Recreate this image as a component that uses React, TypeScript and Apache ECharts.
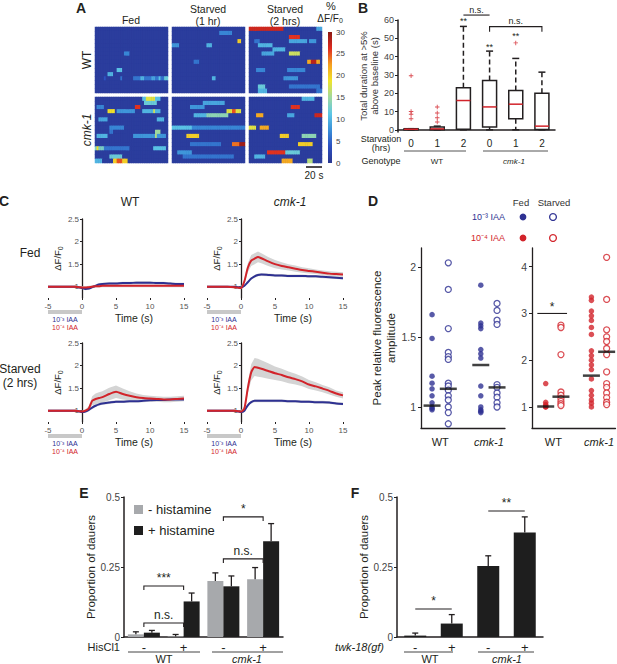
import React, { useEffect, useRef } from 'react';
import * as echarts from 'echarts';

const FONT = '"Liberation Sans", Arial, Helvetica, sans-serif';
const INK = '#231f20';
const RED = '#d2232a';
const BLUE = '#2e3192';
const BAND = '#d4d4d4';

// ---------------- Panel A (heatmaps) ----------------
const hmRows = 16;
const hmCols = 40;
const hmBackground = 1;
const jetColors = ['#2a3790', '#2c4ec0', '#3a8fd8', '#5cc6e6', '#9fd9a0', '#f0e42a', '#f5a020', '#e02a1f', '#8c1a14'];
// events: [row, startCol, length, value]
const evWTFed = [[6, 16, 3, 7], [10, 12, 3, 11], [11, 7, 3, 10], [12, 5, 1, 4], [12, 14, 1, 6], [12, 21, 18, 6], [12, 25, 2, 10], [12, 31, 2, 9], [12, 35, 1, 11], [12, 38, 2, 12]];
const evWTStarved1 = [[1, 26, 7, 7], [3, 36, 2, 20], [4, 0, 4, 8], [4, 19, 3, 10], [8, 12, 3, 6], [12, 22, 2, 10]];
const evWTStarved2 = [[0, 0, 19, 27], [0, 37, 3, 9], [2, 22, 6, 26], [2, 26, 2, 20], [3, 3, 3, 6], [3, 22, 10, 9], [3, 33, 4, 8], [4, 5, 8, 10], [5, 13, 7, 10], [6, 7, 7, 9], [6, 22, 6, 17], [8, 32, 7, 22], [8, 34, 3, 28], [10, 4, 5, 7], [10, 21, 10, 7], [12, 19, 8, 8], [14, 5, 4, 12], [14, 22, 17, 6], [15, 5, 5, 10], [15, 37, 3, 6]];
const evCmkFed = [[0, 26, 10, 11], [0, 28, 5, 18], [1, 27, 7, 12], [2, 1, 4, 7], [2, 22, 3, 26], [3, 7, 4, 19], [3, 12, 10, 8], [3, 26, 10, 10], [3, 32, 1, 17], [5, 2, 5, 9], [5, 34, 4, 10], [7, 8, 8, 7], [8, 8, 2, 6], [8, 33, 3, 15], [9, 1, 6, 10], [9, 21, 18, 8], [9, 33, 1, 16], [12, 0, 5, 13], [12, 1, 1, 19], [12, 5, 14, 6], [12, 32, 7, 11], [14, 8, 7, 12], [15, 0, 4, 10], [15, 10, 8, 20], [15, 12, 3, 25]];
const evCmkStarved1 = [[1, 17, 12, 9], [2, 10, 8, 8], [3, 30, 8, 18], [3, 33, 2, 25], [4, 12, 8, 10], [4, 19, 12, 14], [7, 0, 11, 11], [7, 10, 30, 7], [9, 8, 7, 20], [11, 10, 17, 6], [11, 33, 7, 24], [11, 37, 3, 29], [13, 3, 8, 8], [14, 6, 28, 6]];
const evCmkStarved2 = [[0, 29, 7, 10], [2, 23, 5, 26], [4, 4, 4, 22], [4, 21, 4, 9], [4, 36, 4, 27], [7, 0, 4, 18], [7, 6, 5, 22], [9, 17, 5, 20], [9, 29, 8, 14], [11, 27, 8, 20], [13, 10, 10, 26], [13, 10, 3, 22], [13, 19, 9, 12], [14, 3, 6, 10], [15, 18, 6, 22], [15, 32, 3, 16]];
const colorbarMax = 30;

// ---------------- Panel B (box plot) ----------------
const bCats = ['0', '1', '2', '0', '1', '2'];
// [low, q1, median, q3, high]
const bBoxes = [
  [0, 0, 0.3, 0.6, 0.6],
  [0, 0, 0.5, 1.5, 2],
  [0, 0.3, 16, 23, 56.5],
  [0, 1.5, 12.5, 27, 43],
  [0, 6, 14, 21.5, 39],
  [0, 0.2, 2, 20, 31.5],
];
const bOutliers = [[0, 29.5], [0, 10], [0, 8.5], [0, 6], [1, 12.5], [1, 9.2], [1, 6.6], [1, 4.3], [4, 47.5]];
const bStars = [[2, 59.5, '**'], [3, 45.5, '**'], [4, 51, '**']];
const bBrackets = [[2, 3, 62.7, 62.7, 'n.s.'], [3, 5, 56.4, 53.6, 'n.s.']];
const bTicks = [0, 10, 20, 30, 40, 50, 60];

// ---------------- Panel C (traces) ----------------
const tC = [-5, -4, -3, -2, -1, -0.5, 0, 0.5, 1, 1.5, 2, 2.5, 3, 4, 5, 6, 7, 8, 9, 10, 11, 12, 13, 14, 15];
const cRedWTFed = [1.0, 1.0, 1.0, 1.0, 1.0, 0.99, 0.98, 0.98, 0.99, 1.0, 1.01, 1.01, 1.02, 1.02, 1.02, 1.02, 1.02, 1.02, 1.02, 1.02, 1.02, 1.02, 1.02, 1.02, 1.02];
const cRedWTFedSem = [0.02, 0.02, 0.02, 0.02, 0.02, 0.02, 0.03, 0.03, 0.03, 0.03, 0.03, 0.03, 0.03, 0.03, 0.03, 0.03, 0.03, 0.03, 0.03, 0.03, 0.03, 0.03, 0.03, 0.03, 0.03];
const cBlueWTFed = [1.0, 1.0, 1.0, 1.0, 1.0, 0.99, 0.97, 0.95, 0.96, 0.99, 1.02, 1.05, 1.06, 1.07, 1.07, 1.08, 1.08, 1.09, 1.09, 1.09, 1.08, 1.08, 1.07, 1.06, 1.06];
const cBlueWTFedSem = [0.02, 0.02, 0.02, 0.02, 0.02, 0.02, 0.02, 0.03, 0.03, 0.03, 0.03, 0.03, 0.03, 0.03, 0.03, 0.03, 0.03, 0.03, 0.03, 0.03, 0.03, 0.03, 0.03, 0.03, 0.03];
const cRedCmkFed = [1.0, 1.0, 1.0, 1.0, 0.99, 0.98, 0.97, 1.12, 1.42, 1.58, 1.62, 1.66, 1.63, 1.56, 1.5, 1.46, 1.43, 1.4, 1.37, 1.35, 1.33, 1.31, 1.29, 1.28, 1.27];
const cRedCmkFedSem = [0.02, 0.02, 0.02, 0.02, 0.02, 0.02, 0.03, 0.06, 0.1, 0.12, 0.12, 0.12, 0.11, 0.1, 0.09, 0.08, 0.07, 0.07, 0.06, 0.06, 0.05, 0.05, 0.05, 0.05, 0.05];
const cBlueCmkFed = [1.0, 1.0, 1.0, 1.0, 1.0, 0.99, 0.98, 1.02, 1.1, 1.18, 1.23, 1.26, 1.27, 1.26, 1.25, 1.25, 1.24, 1.24, 1.24, 1.23, 1.23, 1.22, 1.21, 1.2, 1.19];
const cBlueCmkFedSem = [0.01, 0.01, 0.01, 0.01, 0.01, 0.01, 0.02, 0.02, 0.03, 0.03, 0.03, 0.03, 0.03, 0.03, 0.03, 0.03, 0.03, 0.03, 0.03, 0.03, 0.03, 0.03, 0.03, 0.03, 0.03];
const cRedWTStarved = [1.0, 1.0, 1.0, 1.0, 1.0, 0.99, 0.98, 1.0, 1.05, 1.22, 1.26, 1.28, 1.3, 1.37, 1.42, 1.37, 1.33, 1.3, 1.28, 1.27, 1.26, 1.25, 1.25, 1.26, 1.27];
const cRedWTStarvedSem = [0.02, 0.02, 0.02, 0.02, 0.02, 0.02, 0.02, 0.03, 0.05, 0.1, 0.12, 0.13, 0.13, 0.14, 0.14, 0.12, 0.1, 0.08, 0.07, 0.06, 0.06, 0.06, 0.06, 0.06, 0.06];
const cBlueWTStarved = [1.0, 1.0, 1.0, 1.0, 1.0, 0.99, 0.97, 0.98, 1.02, 1.07, 1.11, 1.14, 1.16, 1.18, 1.2, 1.2, 1.21, 1.21, 1.22, 1.23, 1.24, 1.24, 1.25, 1.25, 1.25];
const cBlueWTStarvedSem = [0.02, 0.02, 0.02, 0.02, 0.02, 0.02, 0.02, 0.02, 0.03, 0.03, 0.03, 0.03, 0.03, 0.03, 0.03, 0.03, 0.03, 0.03, 0.03, 0.03, 0.03, 0.03, 0.03, 0.03, 0.03];
const cRedCmkStarved = [1.0, 1.0, 1.0, 1.0, 1.0, 0.99, 0.98, 1.05, 1.5, 1.85, 1.97, 1.95, 1.93, 1.88, 1.83, 1.79, 1.74, 1.7, 1.65, 1.58, 1.54, 1.49, 1.44, 1.38, 1.34];
const cRedCmkStarvedSem = [0.02, 0.02, 0.02, 0.02, 0.02, 0.02, 0.03, 0.05, 0.12, 0.18, 0.2, 0.2, 0.19, 0.17, 0.15, 0.14, 0.13, 0.12, 0.11, 0.1, 0.09, 0.08, 0.08, 0.07, 0.07];
const cBlueCmkStarved = [1.0, 1.0, 1.0, 1.0, 1.0, 0.99, 0.97, 1.0, 1.12, 1.19, 1.22, 1.22, 1.22, 1.22, 1.22, 1.22, 1.21, 1.21, 1.2, 1.2, 1.19, 1.19, 1.18, 1.16, 1.15];
const cBlueCmkStarvedSem = [0.02, 0.02, 0.02, 0.02, 0.02, 0.02, 0.02, 0.02, 0.03, 0.03, 0.03, 0.03, 0.03, 0.03, 0.03, 0.03, 0.03, 0.03, 0.03, 0.03, 0.03, 0.03, 0.03, 0.03, 0.03];
const cYTicks = [1, 1.5, 2, 2.5];

// ---------------- Panel D (peak amplitudes) ----------------
const dPos = [0, 1, 3, 4]; // WT fed, WT starved, cmk-1 fed, cmk-1 starved
const dBlueWTFed = [1.66, 1.49, 1.22, 1.17, 1.13, 1.08, 1.03, 1.0, 0.99, 0.98];
const dBlueWTStarved = [2.03, 1.84, 1.56, 1.39, 1.36, 1.34, 1.17, 1.15, 1.12, 1.08, 1.05, 1.0, 0.96, 0.88];
const dBlueCmkFed = [1.87, 1.6, 1.58, 1.56, 1.41, 1.38, 1.35, 1.15, 1.08, 1.0, 0.98, 0.97, 0.96];
const dBlueCmkStarved = [1.74, 1.69, 1.62, 1.59, 1.16, 1.14, 1.1, 1.07, 1.03, 1.0];
const dBlueMedians = [1.01, 1.13, 1.3, 1.14];
const dRedWTFed = [1.5, 1.1, 1.05, 1.02, 1.0, 1.0];
const dRedWTStarved = [2.75, 2.7, 2.12, 1.32, 1.25, 1.18, 1.12, 1.07, 1.03];
const dRedCmkFed = [3.35, 3.28, 3.05, 2.95, 2.85, 2.7, 2.55, 2.2, 2.1, 2.0, 1.9, 1.8, 1.6, 1.35, 1.25, 1.15, 1.08, 1.0];
const dRedCmkStarved = [4.2, 3.3, 2.65, 2.5, 2.4, 2.25, 2.12, 1.75, 1.5, 1.42, 1.3, 1.2, 1.1, 1.05];
const dRedMedians = [1.01, 1.22, 1.67, 2.18];
const dRedBracket = [[-0.55, 1.4, 3.0, 3.0, '*']];

// ---------------- Panel E ----------------
const eCats = ['-', '+', '-', '+'];
const eMinusHist = [0.0095, 0.002, 0.2, 0.206];
const eMinusHistErr = [0.009, 0.007, 0.029, 0.042];
const ePlusHist = [0.0155, 0.127, 0.181, 0.342];
const ePlusHistErr = [0.008, 0.03, 0.037, 0.063];
const eBrackets = [[-0.2, 0.8, 0.05, 0.036, 'n.s.'], [0.2, 1.2, 0.182, 0.168, '***'], [1.8, 2.8, 0.279, 0.264, 'n.s.'], [2.2, 3.2, 0.429, 0.414, '*']];

// ---------------- Panel F ----------------
const fCats = ['-', '+', '-', '+'];
const fValues = [0.005, 0.048, 0.254, 0.373];
const fErr = [0.009, 0.032, 0.036, 0.056];
const fBrackets = [[-0.05, 1.04, 0.1, 0.1, '*'], [1.95, 3.07, 0.45, 0.45, '**']];

function buildHeat(events: number[][]) {
  const g: number[][] = [];
  for (let r = 0; r < hmRows; r++) g.push(new Array(hmCols).fill(hmBackground));
  events.forEach(([r, c, len, v]) => {
    for (let i = c; i < Math.min(hmCols, c + len); i++) g[r][i] = Math.max(g[r][i], v);
  });
  const out: number[][] = [];
  g.forEach((row, r) => row.forEach((v, c) => out.push([c, r, v])));
  return out;
}

function txt(x: number, y: number, text: string, o: any = {}) {
  return {
    type: 'text', x, y, rotation: o.rotation || 0, z: 100,
    style: {
      text, fill: o.fill || INK, fontSize: o.fontSize || 11, fontFamily: FONT,
      fontWeight: o.fontWeight || 'normal', fontStyle: o.fontStyle || 'normal',
      textAlign: o.align || 'center', textVerticalAlign: 'middle', align: o.align || 'center', verticalAlign: 'middle',
      rich: o.rich,
    },
  };
}
function hline(x1: number, x2: number, y: number, w = 1, color = INK) {
  return { type: 'line', z: 100, shape: { x1, y1: y, x2, y2: y }, style: { stroke: color, lineWidth: w } };
}

function buildOption() {
  const grids: any[] = [], xAxes: any[] = [], yAxes: any[] = [], series: any[] = [], graphics: any[] = [];
  const addGrid = (g: any, x: any, y: any) => {
    grids.push(g);
    const idx = grids.length - 1;
    xAxes.push({ ...x, gridIndex: idx });
    yAxes.push({ ...y, gridIndex: idx });
    return idx;
  };

  // ----- A -----
  const hmPanels = [
    { ev: evWTFed, left: 95, top: 27 },
    { ev: evWTStarved1, left: 172, top: 27 },
    { ev: evWTStarved2, left: 249, top: 27 },
    { ev: evCmkFed, left: 95, top: 97 },
    { ev: evCmkStarved1, left: 172, top: 97 },
    { ev: evCmkStarved2, left: 249, top: 97 },
  ];
  const colIdx = Array.from({ length: hmCols }, (_, i) => String(i));
  const rowIdx = Array.from({ length: hmRows }, (_, i) => String(i));
  const hmSeriesIdx: number[] = [];
  hmPanels.forEach((p) => {
    const gi = addGrid(
      { left: p.left, top: p.top, width: 73, height: 66, show: true, backgroundColor: jetColors[0], borderWidth: 0 },
      { type: 'category', data: colIdx, show: false },
      { type: 'category', data: rowIdx, inverse: true, show: false }
    );
    hmSeriesIdx.push(series.length);
    series.push({ type: 'heatmap', xAxisIndex: gi, yAxisIndex: gi, data: buildHeat(p.ev), silent: true, emphasis: { disabled: true }, itemStyle: { borderWidth: 0 } });
  });
  const cbi = addGrid(
    { left: 328, top: 32, width: 4, height: 131 },
    { type: 'category', data: ['cb'], show: false },
    { type: 'value', min: 0, max: colorbarMax, interval: 5, position: 'right', axisLine: { show: false }, axisTick: { show: false }, splitLine: { show: false }, axisLabel: { fontSize: 8, color: '#444', margin: 4 } }
  );
  series.push({
    type: 'bar', xAxisIndex: cbi, yAxisIndex: cbi, data: [colorbarMax], barWidth: '100%', silent: true,
    itemStyle: { color: new echarts.graphic.LinearGradient(0, 1, 0, 0, jetColors.map((c, i) => ({ offset: i / (jetColors.length - 1), color: c }))) },
  });

  // ----- B -----
  const bi = addGrid(
    { left: 398, top: 20, width: 157, height: 112 },
    { type: 'category', data: bCats, axisLine: { lineStyle: { color: INK, width: 1.5 } }, axisTick: { show: false }, axisLabel: { fontSize: 10, color: INK, margin: 6 } },
    {
      type: 'value', min: -1.2, max: 60, splitLine: { show: false },
      axisLine: { show: true, onZero: false, lineStyle: { color: INK, width: 1.5 } },
      axisTick: { show: true, length: 3, customValues: bTicks },
      axisLabel: { customValues: bTicks, fontSize: 9, color: '#444', margin: 4 },
      name: 'Total duration at >5%\nabove baseline (s)', nameLocation: 'middle', nameGap: 13,
      nameTextStyle: { fontSize: 9.5, color: '#333', lineHeight: 11 },
    }
  );
  series.push({
    type: 'custom', xAxisIndex: bi, yAxisIndex: bi, silent: true,
    data: bBoxes.map((b, i) => [i, ...b]),
    renderItem: (params: any, api: any) => {
      const i = api.value(0);
      const low = api.coord([i, api.value(1)]), q1 = api.coord([i, api.value(2)]), med = api.coord([i, api.value(3)]);
      const q3 = api.coord([i, api.value(4)]), high = api.coord([i, api.value(5)]);
      const x = low[0], hw = 7, cw = 3.5;
      const st = { stroke: INK, lineWidth: 1.5 };
      return {
        type: 'group', children: [
          { type: 'line', shape: { x1: x, y1: q3[1], x2: x, y2: high[1] }, style: { ...st, lineDash: [5, 3] } },
          { type: 'line', shape: { x1: x - cw, y1: high[1], x2: x + cw, y2: high[1] }, style: st },
          { type: 'line', shape: { x1: x, y1: q1[1], x2: x, y2: low[1] }, style: { ...st, lineDash: [5, 3] } },
          { type: 'line', shape: { x1: x - cw, y1: low[1], x2: x + cw, y2: low[1] }, style: st },
          { type: 'rect', shape: { x: x - hw, y: q3[1], width: 2 * hw, height: Math.max(1, q1[1] - q3[1]) }, style: { fill: '#fff', ...st } },
          { type: 'line', shape: { x1: x - hw, y1: med[1], x2: x + hw, y2: med[1] }, style: { stroke: RED, lineWidth: 1.5 } },
        ],
      };
    },
  });
  series.push({
    type: 'scatter', xAxisIndex: bi, yAxisIndex: bi, silent: true, data: bOutliers,
    symbol: 'path://M4,0h2v4h4v2h-4v4h-2v-4h-4v-2h4z', symbolSize: 4.5, itemStyle: { color: RED },
  });

  const labelSeries = (gi: number, items: any[], fontSize: number) => ({
    type: 'custom', xAxisIndex: gi, yAxisIndex: gi, silent: true, z: 6,
    data: items.map((it) => [it[0], it[1]]),
    renderItem: (params: any, api: any) => {
      const it = items[params.dataIndex];
      const p = api.coord([it[0], it[1]]);
      return { type: 'text', x: p[0], y: p[1], style: { text: it[2], fill: INK, fontSize, fontFamily: FONT, textAlign: 'center', textVerticalAlign: 'middle', align: 'center', verticalAlign: 'middle' } };
    },
  });
  const bracketSeries = (gi: number, items: any[], fontSize: number, gap: number) => ({
    type: 'custom', xAxisIndex: gi, yAxisIndex: gi, silent: true, z: 6,
    data: items.map((it) => [it[0], it[2]]),
    renderItem: (params: any, api: any) => {
      const it = items[params.dataIndex];
      const a = api.coord([it[0], it[2]]), b = api.coord([it[1], it[2]]);
      const a2 = api.coord([it[0], it[3]]), b2 = api.coord([it[1], it[3]]);
      return {
        type: 'group', children: [
          { type: 'polyline', shape: { points: [a2, a, b, b2] }, style: { stroke: INK, lineWidth: 1.1, fill: null } },
          { type: 'text', x: (a[0] + b[0]) / 2, y: a[1] - gap, style: { text: it[4], fill: INK, fontSize, fontFamily: FONT, textAlign: 'center', textVerticalAlign: 'bottom', align: 'center', verticalAlign: 'bottom' } },
        ],
      };
    },
  });
  series.push(labelSeries(bi, bStars, 9));
  series.push(bracketSeries(bi, bBrackets, 9, 1));

  // ----- C -----
  const cPanels = [
    { left: 48, top: 219, red: cRedWTFed, redSem: cRedWTFedSem, blue: cBlueWTFed, blueSem: cBlueWTFedSem },
    { left: 207, top: 219, red: cRedCmkFed, redSem: cRedCmkFedSem, blue: cBlueCmkFed, blueSem: cBlueCmkFedSem },
    { left: 48, top: 343, red: cRedWTStarved, redSem: cRedWTStarvedSem, blue: cBlueWTStarved, blueSem: cBlueWTStarvedSem },
    { left: 207, top: 343, red: cRedCmkStarved, redSem: cRedCmkStarvedSem, blue: cBlueCmkStarved, blueSem: cBlueCmkStarvedSem },
  ];
  const cWidth = 136;
  cPanels.forEach((p) => {
    const gi = addGrid(
      { left: p.left, top: p.top, width: cWidth, height: 79 },
      { type: 'value', min: -5, max: 15, interval: 5, splitLine: { show: false }, axisLine: { show: false, onZero: false }, axisTick: { show: true, length: 2, lineStyle: { color: INK } }, axisLabel: { fontSize: 8, color: '#555', margin: 4 } },
      {
        type: 'value', min: 0.75, max: 2.5, splitLine: { show: false },
        offset: -(0 - -5) * cWidth / 20,
        axisLine: { show: true, onZero: false, lineStyle: { color: INK, width: 1.3 } },
        axisTick: { show: true, length: 2, customValues: cYTicks },
        axisLabel: { customValues: cYTicks, fontSize: 8, color: '#555', margin: 3 },
        name: '{a|ΔF/F}{b|0}', nameLocation: 'middle', nameGap: 12,
        nameTextStyle: { rich: { a: { fontSize: 9.5, color: INK, fontFamily: FONT }, b: { fontSize: 7, color: INK, fontFamily: FONT, padding: [5, 0, 0, 0] } } },
      }
    );
    const bandSeries = (vals: number[], sem: number[]) => ({
      type: 'custom', xAxisIndex: gi, yAxisIndex: gi, silent: true, z: 1,
      data: tC.map((t, i) => [t, vals[i] - sem[i], vals[i] + sem[i]]),
      renderItem: (params: any, api: any) => {
        if (params.dataIndex !== 0) return null;
        const upper = tC.map((t, i) => api.coord([t, vals[i] + sem[i]]));
        const lower = tC.map((t, i) => api.coord([t, vals[i] - sem[i]])).reverse();
        return { type: 'polygon', shape: { points: upper.concat(lower) }, style: { fill: BAND } };
      },
    });
    series.push(bandSeries(p.blue, p.blueSem), bandSeries(p.red, p.redSem));
    series.push({ type: 'line', xAxisIndex: gi, yAxisIndex: gi, symbol: 'none', silent: true, smooth: 0.2, z: 3, lineStyle: { color: BLUE, width: 2 }, data: tC.map((t, i) => [t, p.blue[i]]) });
    series.push({ type: 'line', xAxisIndex: gi, yAxisIndex: gi, symbol: 'none', silent: true, smooth: 0.2, z: 3, lineStyle: { color: RED, width: 2 }, data: tC.map((t, i) => [t, p.red[i]]) });
  });

  // ----- D -----
  const dLabelFmt = (v: number) => (v < 2 ? 'WT' : '{i|cmk-1}');
  const dX = (min: number, max: number) => ({
    type: 'value', min, max, splitLine: { show: false },
    axisLine: { show: true, onZero: false, lineStyle: { color: INK, width: 1.3 } }, axisTick: { show: false },
    axisLabel: { customValues: [0.5, 3.5], formatter: dLabelFmt, fontSize: 11, color: INK, margin: 8, rich: { i: { fontStyle: 'italic', fontSize: 11, color: INK, fontFamily: FONT } } },
  });
  const dY = (min: number, max: number, ticks: number[], name: string) => ({
    type: 'value', min, max, splitLine: { show: false },
    axisLine: { show: true, onZero: false, lineStyle: { color: INK, width: 1.3 } },
    axisTick: { show: true, length: 3, customValues: ticks },
    axisLabel: { customValues: ticks, fontSize: 10.5, color: '#444', margin: 5 },
    name, nameLocation: 'middle', nameGap: 20, nameTextStyle: { fontSize: 11.5, color: INK, lineHeight: 14 },
  });
  const dl = addGrid({ left: 421, top: 248, width: 84, height: 180 }, dX(-0.68, 4.49), dY(0.85, 2.136, [1, 1.5, 2], 'Peak relative fluorescence\namplitude'));
  const dr = addGrid({ left: 532, top: 248, width: 85, height: 180 }, dX(-0.9, 4.58), dY(0.55, 4.4, [1, 2, 3, 4], ''));
  const dot = (gi: number, pos: number, vals: number[], color: string, open: boolean) => ({
    type: 'scatter', xAxisIndex: gi, yAxisIndex: gi, silent: true, z: 3,
    data: vals.map((v) => [pos, v]), symbolSize: open ? 6 : 5.5,
    itemStyle: open ? { color: '#fff', borderColor: color, borderWidth: 1.3 } : { color },
  });
  const med = (gi: number, vals: number[]) => ({
    type: 'scatter', xAxisIndex: gi, yAxisIndex: gi, silent: true, z: 4,
    data: vals.map((v, i) => [dPos[i], v]), symbol: 'rect', symbolSize: [17, 2.5], itemStyle: { color: '#111' },
  });
  series.push(dot(dl, dPos[0], dBlueWTFed, BLUE, false), dot(dl, dPos[1], dBlueWTStarved, BLUE, true), dot(dl, dPos[2], dBlueCmkFed, BLUE, false), dot(dl, dPos[3], dBlueCmkStarved, BLUE, true), med(dl, dBlueMedians));
  series.push(dot(dr, dPos[0], dRedWTFed, RED, false), dot(dr, dPos[1], dRedWTStarved, RED, true), dot(dr, dPos[2], dRedCmkFed, RED, false), dot(dr, dPos[3], dRedCmkStarved, RED, true), med(dr, dRedMedians));
  series.push(bracketSeries(dr, dRedBracket, 12, 0));

  // ----- E -----
  const barX = (cats: string[]) => ({ type: 'category', data: cats, axisLine: { lineStyle: { color: INK, width: 1.5 } }, axisTick: { show: false }, axisLabel: { fontSize: 13, color: INK, margin: 4 } });
  const barY = () => ({
    type: 'value', min: 0, max: 0.5, interval: 0.25, splitLine: { show: false },
    axisLine: { show: true, lineStyle: { color: INK, width: 1.5 } }, axisTick: { show: true, length: 3 },
    axisLabel: { fontSize: 10, color: '#444', margin: 4 },
    name: 'Proportion of dauers', nameLocation: 'middle', nameGap: 22, nameTextStyle: { fontSize: 11.5, color: INK },
  });
  const errorSeries = (gi: number, vals: number[], errs: number[], offset: number) => ({
    type: 'custom', xAxisIndex: gi, yAxisIndex: gi, silent: true, z: 4,
    data: vals.map((v, i) => [i, v, errs[i]]),
    renderItem: (params: any, api: any) => {
      const i = api.value(0), v = api.value(1), e = api.value(2);
      const p0 = api.coord([i, v]), p1 = api.coord([i, v + e]);
      const x = p0[0] + offset;
      return {
        type: 'group', children: [
          { type: 'line', shape: { x1: x, y1: p0[1], x2: x, y2: p1[1] }, style: { stroke: INK, lineWidth: 1.3 } },
          { type: 'line', shape: { x1: x - 3, y1: p1[1], x2: x + 3, y2: p1[1] }, style: { stroke: INK, lineWidth: 1.3 } },
        ],
      };
    },
  });
  const ei = addGrid({ left: 124, top: 497, width: 159, height: 140 }, barX(eCats), barY());
  series.push({ type: 'bar', name: '- histamine', xAxisIndex: ei, yAxisIndex: ei, data: eMinusHist, barWidth: 16, barGap: '0%', silent: true, itemStyle: { color: '#a7a9ac' } });
  series.push({ type: 'bar', name: '+ histamine', xAxisIndex: ei, yAxisIndex: ei, data: ePlusHist, barWidth: 16, barGap: '0%', silent: true, itemStyle: { color: '#1e1e1e' } });
  series.push(errorSeries(ei, eMinusHist, eMinusHistErr, -8), errorSeries(ei, ePlusHist, ePlusHistErr, 8));
  series.push(bracketSeries(ei, eBrackets, 12, 2));

  // ----- F -----
  const fi = addGrid({ left: 397, top: 497, width: 146, height: 140 }, barX(fCats), barY());
  series.push({ type: 'bar', name: 'twk', xAxisIndex: fi, yAxisIndex: fi, data: fValues, barWidth: 22, silent: true, itemStyle: { color: '#1e1e1e' } });
  series.push(errorSeries(fi, fValues, fErr, 0));
  series.push(bracketSeries(fi, fBrackets, 12, 2));

  // ----- graphics -----
  const B = { fontSize: 14, fontWeight: 'bold' };
  graphics.push(txt(81, 8, 'A', B), txt(363, 8, 'B', B), txt(4, 201, 'C', B), txt(373, 201, 'D', B), txt(84, 493, 'E', B), txt(355, 493, 'F', B));
  // A
  graphics.push(txt(131, 20, 'Fed', { fontSize: 10.5 }), txt(208, 9, 'Starved', { fontSize: 10.5 }), txt(208, 20.5, '(1 hr)', { fontSize: 10.5 }), txt(285, 9, 'Starved', { fontSize: 10.5 }), txt(285, 20.5, '(2 hrs)', { fontSize: 10.5 }));
  graphics.push(txt(87, 60, 'WT', { rotation: Math.PI / 2, fontSize: 12 }), txt(87, 130, 'cmk-1', { rotation: Math.PI / 2, fontSize: 12, fontStyle: 'italic' }));
  graphics.push(txt(331, 6, '%', { fontSize: 11 }), txt(330, 18, '{a|ΔF/F}{b|0}', { rich: { a: { fontSize: 10, fontFamily: FONT, fill: INK }, b: { fontSize: 7, fontFamily: FONT, fill: INK, padding: [5, 0, 0, 0] } } }));
  graphics.push(hline(306, 322, 167, 1.6), txt(314, 175, '20 s', { fontSize: 10 }));
  // B
  graphics.push(txt(381, 139, 'Starvation', { fontSize: 9 }), txt(381, 148, '(hrs)', { fontSize: 9 }), txt(381, 161, 'Genotype', { fontSize: 9 }));
  graphics.push(hline(404, 466, 151, 1, '#555'), hline(483, 548, 151, 1, '#555'), txt(437, 161, 'WT', { fontSize: 8 }), txt(514, 161, 'cmk-1', { fontSize: 8, fontStyle: 'italic' }));
  // C
  graphics.push(txt(130, 202, 'WT', { fontSize: 12 }), txt(290, 202, 'cmk-1', { fontSize: 12, fontStyle: 'italic' }));
  graphics.push(txt(30, 253, 'Fed', { fontSize: 12 }), txt(20, 369, 'Starved', { fontSize: 12 }), txt(20, 383, '(2 hrs)', { fontSize: 12 }));
  [[48, 219], [207, 219], [48, 343], [207, 343]].forEach(([l, t]) => {
    const by = t + 93;
    graphics.push({ type: 'rect', z: 100, shape: { x: l, y: by - 2, width: 34, height: 4 }, style: { fill: '#c8c8c8' } });
    graphics.push(txt(l + 17, by + 7.5, '10⁻³ IAA', { fontSize: 7, fill: BLUE }), txt(l + 17, by + 15.5, '10⁻⁴ IAA', { fontSize: 7, fill: RED }));
    graphics.push(txt(l + 86, by + 6, 'Time (s)', { fontSize: 10.5 }));
  });
  // D legend
  graphics.push(txt(521, 202, 'Fed', { fontSize: 9.5, fill: '#333' }), txt(554, 202, 'Starved', { fontSize: 9.5, fill: '#333' }));
  graphics.push(txt(505, 217, '10⁻³ IAA', { fontSize: 9, fill: BLUE, align: 'right' }), txt(505, 238, '10⁻⁴ IAA', { fontSize: 9, fill: RED, align: 'right' }));
  graphics.push({ type: 'circle', z: 100, shape: { cx: 523, cy: 217, r: 3.4 }, style: { fill: BLUE } });
  graphics.push({ type: 'circle', z: 100, shape: { cx: 553, cy: 217, r: 3.4 }, style: { fill: '#fff', stroke: BLUE, lineWidth: 1.3 } });
  graphics.push({ type: 'circle', z: 100, shape: { cx: 523, cy: 238, r: 3.4 }, style: { fill: RED } });
  graphics.push({ type: 'circle', z: 100, shape: { cx: 553, cy: 238, r: 3.4 }, style: { fill: '#fff', stroke: RED, lineWidth: 1.3 } });
  // E / F group labels
  graphics.push(txt(120, 647, 'HisCl1', { fontSize: 11, align: 'right' }));
  graphics.push(hline(128, 200, 652, 1, '#444'), hline(212, 283, 652, 1, '#444'), txt(164, 659, 'WT', { fontSize: 11 }), txt(247, 659, 'cmk-1', { fontSize: 11, fontStyle: 'italic' }));
  graphics.push(txt(384, 647, 'twk-18(gf)', { fontSize: 11, align: 'right', fontStyle: 'italic' }));
  graphics.push(hline(404, 453, 652, 1, '#444'), hline(478, 534, 652, 1, '#444'), txt(430, 659, 'WT', { fontSize: 11 }), txt(507, 659, 'cmk-1', { fontSize: 11, fontStyle: 'italic' }));

  return {
    animation: false,
    backgroundColor: '#fff',
    textStyle: { fontFamily: FONT },
    grid: grids,
    xAxis: xAxes,
    yAxis: yAxes,
    visualMap: [{ type: 'continuous', min: 0, max: colorbarMax, show: false, seriesIndex: hmSeriesIdx, dimension: 2, inRange: { color: jetColors } }],
    legend: [{
      data: ['- histamine', '+ histamine'], orient: 'vertical', left: 134, top: 503, itemWidth: 9, itemHeight: 9, itemGap: 8,
      icon: 'rect', selectedMode: false, padding: 0, textStyle: { fontSize: 13, color: INK, fontFamily: FONT },
    }],
    series,
    graphic: graphics,
  };
}

export default function App() {
  const ref = useRef<HTMLDivElement>(null);
  useEffect(() => {
    const chart = echarts.init(ref.current as HTMLDivElement, null, { renderer: 'svg' });
    chart.setOption(buildOption() as any);
    return () => chart.dispose();
  }, []);
  return <div ref={ref} style={{ position: 'fixed', left: 0, top: 0, width: 617, height: 664, background: '#fff' }} />;
}
